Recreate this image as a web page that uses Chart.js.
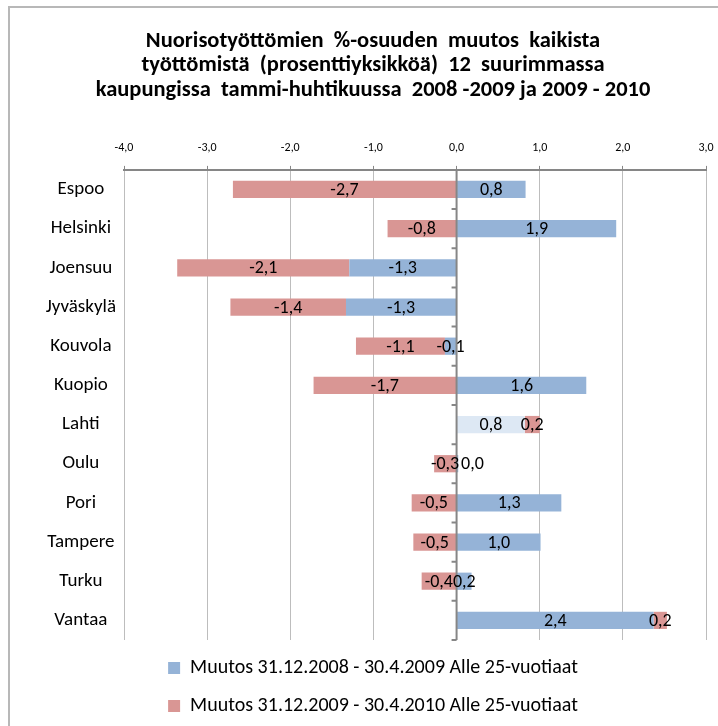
<!DOCTYPE html>
<html>
<head>
<meta charset="utf-8">
<script src="https://cdn.jsdelivr.net/npm/chart.js@4.4.1/dist/chart.umd.min.js"></script>
<style>
    html, body { margin: 0; padding: 0; background: #fff; }
    #wrap { position: relative; width: 718px; height: 726px; }
</style>
</head>
<body>
<div id="wrap"><canvas id="chart"></canvas></div>
<script>
// kaupungit ylhäältä alas
const cities = ['Espoo', 'Helsinki', 'Joensuu', 'Jyväskylä', 'Kouvola', 'Kuopio', 'Lahti', 'Oulu', 'Pori', 'Tampere', 'Turku', 'Vantaa'];
const change2009 = [0.83, 1.92, -1.29, -1.33, -0.14, 1.56, 0.82, 0.02, 1.26, 1.01, 0.18, 2.37];
const change2010 = [-2.69, -0.83, -2.07, -1.39, -1.07, -1.72, 0.18, -0.27, -0.54, -0.52, -0.42, 0.16];
const seriesNames = [
    'Muutos 31.12.2008 - 30.4.2009 Alle 25-vuotiaat',
    'Muutos 31.12.2009 - 30.4.2010 Alle 25-vuotiaat'
];
const titleLines = [
    'Nuorisotyöttömien  %-osuuden  muutos  kaikista',
    'työttömistä  (prosenttiyksikköä)  12  suurimmassa',
    'kaupungissa  tammi-huhtikuussa  2008 -2009 ja 2009 - 2010'
];
const axisMin = -4;
const axisMax = 3;

const FONT = 'Carlito, Calibri, Lato, sans-serif';
const BLUE = '#95b3d7';
const RED = '#d99694';
const PALE_BLUE = '#dde8f4';   // Lahti-palkki on vaaleampi
const fmt = v => v.toFixed(1).replace('.', ',');

const extras = {
    id: 'extras',
    beforeDraw(chart) {
        // kehys vasemmalla ja ylhäällä
        const ctx = chart.ctx;
        ctx.save();
        ctx.strokeStyle = '#b8b8b8';
        ctx.lineWidth = 2;
        ctx.beginPath();
        ctx.moveTo(9, chart.height);
        ctx.lineTo(9, 7);
        ctx.lineTo(chart.width, 7);
        ctx.stroke();
        ctx.restore();
    },
    afterDatasetsDraw(chart) {
        const {ctx, chartArea, scales: {x, y}} = chart;
        const zero = x.getPixelForValue(0);
        ctx.save();
        ctx.strokeStyle = '#868686';
        ctx.lineWidth = 2;
        ctx.beginPath();
        ctx.moveTo(zero, chartArea.top);
        ctx.lineTo(zero, chartArea.bottom);
        for (let i = 0; i <= cities.length; i++) {
            const py = y.getPixelForValue(i - 0.5);
            ctx.moveTo(zero - 5, py);
            ctx.lineTo(zero, py);
        }
        ctx.stroke();

        // arvot palkkien keskelle
        ctx.font = '18px ' + FONT;
        ctx.fillStyle = '#000';
        ctx.textBaseline = 'middle';
        chart.data.datasets.forEach((ds, di) => {
            chart.getDatasetMeta(di).data.forEach((bar, i) => {
                const txt = fmt(ds.data[i]);
                if (Math.abs(bar.x - bar.base) < 3) {
                    ctx.textAlign = 'left';
                    ctx.fillText(txt, bar.base + 4, bar.y + 1);
                } else {
                    ctx.textAlign = 'center';
                    ctx.fillText(txt, (bar.x + bar.base) / 2, bar.y + 1);
                }
            });
        });
        ctx.restore();
    }
};

new Chart(document.getElementById('chart'), {
    type: 'bar',
    data: {
        labels: cities,
        datasets: [{
            label: seriesNames[0],
            data: change2009,
            backgroundColor: c => (c.type === 'data' && cities[c.dataIndex] === 'Lahti') ? PALE_BLUE : BLUE,
            borderWidth: 0,
            barPercentage: 0.44,
            categoryPercentage: 1
        }, {
            label: seriesNames[1],
            data: change2010,
            backgroundColor: RED,
            borderWidth: 0,
            barPercentage: 0.44,
            categoryPercentage: 1
        }]
    },
    options: {
        indexAxis: 'y',
        responsive: true,
        maintainAspectRatio: false,
        devicePixelRatio: 1,
        animation: false,
        layout: {padding: {left: 40, right: 12, top: 0, bottom: 0}},
        scales: {
            x: {
                position: 'top',
                stacked: true,
                min: axisMin,
                max: axisMax,
                ticks: {
                    stepSize: 1,
                    padding: 11,
                    color: '#000',
                    font: {family: FONT, size: 12},
                    callback: v => fmt(v)
                },
                grid: {
                    color: '#bdbdbd',
                    lineWidth: 1,
                    tickLength: 4,
                    tickColor: '#868686'
                },
                border: {color: '#868686', width: 2},
                afterFit(scale) {
                    // reunan tikkitekstit saavat ulottua marginaaliin
                    scale.paddingLeft = 0;
                    scale.paddingRight = 0;
                }
            },
            y: {
                stacked: true,
                offset: true,
                grid: {display: false},
                border: {display: false},
                ticks: {
                    crossAlign: 'center',
                    padding: 0,
                    color: '#000',
                    font: {family: FONT, size: 19}
                },
                afterFit(scale) {
                    scale.width = 84;
                }
            }
        },
        plugins: {
            title: {
                display: true,
                text: titleLines,
                color: '#000',
                font: {family: FONT, size: 22.5, weight: 'bold', lineHeight: '24.5px'},
                padding: {top: 29, bottom: 27}
            },
            legend: {
                position: 'bottom',
                labels: {
                    boxWidth: 12,
                    boxHeight: 12,
                    padding: 18,
                    color: '#000',
                    font: {family: FONT, size: 20}
                }
            },
            tooltip: {enabled: false}
        }
    },
    plugins: [extras]
});
</script>
</body>
</html>
